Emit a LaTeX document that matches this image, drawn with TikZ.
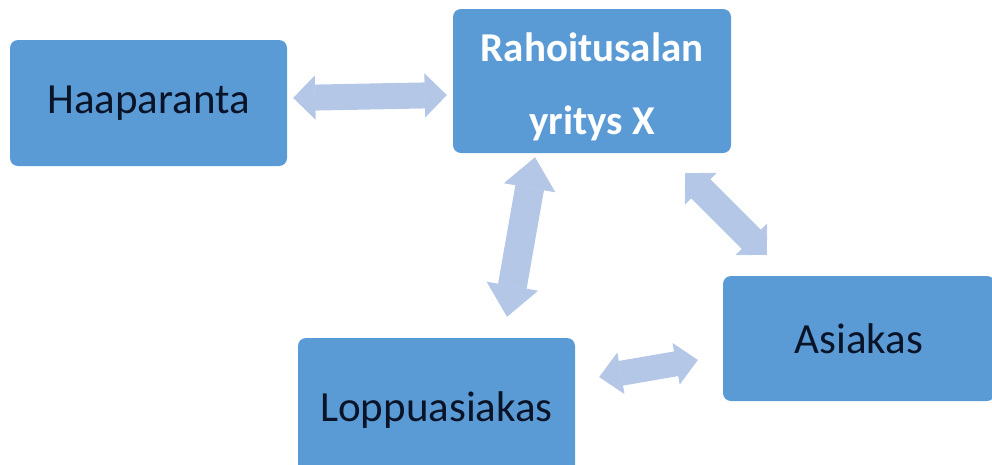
\documentclass[tikz,border=0pt]{standalone}
\usepackage{fontspec}
\setmainfont{Carlito}
\usetikzlibrary{arrows.meta,calc}
\definecolor{boxblue}{HTML}{5B9BD5}
\definecolor{linkblue}{HTML}{B4C7E7}
\definecolor{textdark}{HTML}{0A1428}

\begin{document}
\begin{tikzpicture}[x=1pt,y=-1pt,
  box/.style={fill=boxblue,rounded corners=8pt,minimum width=277pt,minimum height=126pt,inner sep=0pt,text=textdark,font=\fontsize{43}{50}\selectfont},
  link/.style={draw=linkblue,line width=26pt,{Triangle[length=22pt,width=44pt,line width=0.8pt]}-{Triangle[length=22pt,width=44pt,line width=0.8pt]}}]
\useasboundingbox (0,0) rectangle (992,464);
%boxes
\node[box] (haap) at (148.5,103) {Haaparanta};
\node[box,minimum width=278pt,minimum height=144pt,text=white,align=center,text height=114pt,font=\fontsize{41}{73}\selectfont\bfseries] (rah) at (592,81) {Rahoitusalan\\yritys X};
\node[box,minimum width=272pt,minimum height=125pt] (asia) at (859,338.5) {Asiakas};
\node[box,minimum height=144pt] (lopp) at (436.5,410) {Loppuasiakas};
%links
\draw[link] ($(haap.east)+(6,-5)$) -- ($(rah.west)+(-6,14)$);
\draw[link,line width=29pt,{Triangle[length=31pt,width=52pt,line width=0.8pt]}-{Triangle[length=31pt,width=52pt,line width=0.8pt]}]
  ($(rah.south)+(-57,4)$) -- ($(lopp.north)+(70.5,-21)$);
\draw[link,line width=27pt,{Triangle[length=22pt,width=45pt,line width=0.8pt]}-{Triangle[length=22pt,width=45pt,line width=0.8pt]}]
  ($(rah.south east)+(-46,20)$) -- ($(asia.north west)+(44,-21)$);
\draw[link,line width=25pt,{Triangle[length=22pt,width=42pt,line width=0.8pt]}-{Triangle[length=22pt,width=42pt,line width=0.8pt]}]
  ($(lopp.east)+(24,-33)$) -- ($(asia.west)+(-25,21.5)$);
\end{tikzpicture}
\end{document}
